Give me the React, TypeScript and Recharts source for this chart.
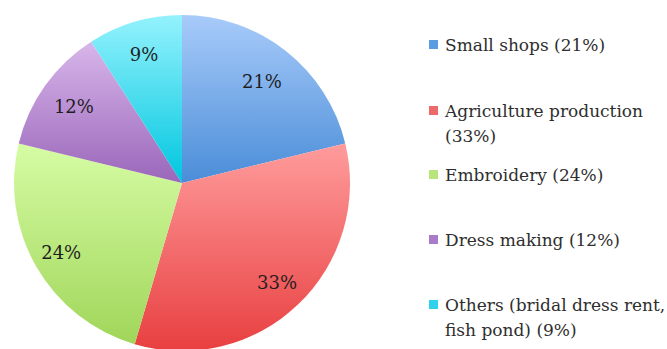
import React from 'react';
import { PieChart, Pie, Cell, Legend } from 'recharts';

const categories = ['Small shops', 'Agriculture production', 'Embroidery', 'Dress making', 'Others (bridal dress rent, fish pond)'];
const values = [21, 33, 24, 12, 9];
const legendLines = [
  ['Small shops (21%)'],
  ['Agriculture production', '(33%)'],
  ['Embroidery (24%)'],
  ['Dress making (12%)'],
  ['Others (bridal dress rent,', 'fish pond) (9%)'],
];
const gradTop = ['#a8cbfa', '#ff9c9c', '#d6fca4', '#d8b6ea', '#94f2fd'];
const gradBottom = ['#4a8dd8', '#e83f40', '#a0d65a', '#9a66ba', '#00c6df'];
const swatch = ['#5b9be0', '#ee6a6a', '#b8e67c', '#a87cc8', '#2ed2ea'];

const data = categories.map((name, i) => ({ name, value: values[i] }));

const labelRadiusFactor = [0.77, 0.82, 0.83, 0.79, 0.8];

const RAD = Math.PI / 180;
const renderLabel = (props: any) => {
  const { cx, cy, midAngle, outerRadius, value, index } = props;
  const r = outerRadius * (labelRadiusFactor[index] ?? 0.8);
  const x = cx + r * Math.cos(-midAngle * RAD);
  const y = cy + r * Math.sin(-midAngle * RAD);
  return (
    <text x={x} y={y} textAnchor="middle" dominantBaseline="central" fill="#1e1e1e"
      fontFamily="'DejaVu Serif', serif" fontSize={18}>
      {`${value}%`}
    </text>
  );
};

const legendTops = [45, 111, 175, 240, 305];

const renderLegend = () => (
  <div style={{ position: 'relative', width: 239, height: 349 }}>
    {legendLines.map((lines, i) => (
      <div key={i} style={{ position: 'absolute', left: 0, top: legendTops[i] - 12 }}>
        <div style={{ position: 'absolute', left: 1, top: 7, width: 9, height: 9, background: swatch[i] }} />
        <div style={{ position: 'absolute', left: 17, top: 0, whiteSpace: 'nowrap', fontFamily: "'DejaVu Serif', serif", fontSize: 17, lineHeight: '25px', color: '#2e2e2e' }}>
          {lines.map((l, j) => (<div key={j}>{l}</div>))}
        </div>
      </div>
    ))}
  </div>
);

export default function App() {
  return (
    <div style={{ position: 'absolute', left: 0, top: 0, width: 667, height: 349, background: '#fff' }}>
      <PieChart width={667} height={349} margin={{ top: 0, right: 0, bottom: 0, left: 0 }}>
        <defs>
          {gradTop.map((c, i) => (
            <linearGradient key={i} id={`g${i}`} x1="0" y1="0" x2="0" y2="1">
              <stop offset="0%" stopColor={c} />
              <stop offset="100%" stopColor={gradBottom[i]} />
            </linearGradient>
          ))}
        </defs>
        <Pie data={data} dataKey="value" nameKey="name" cx={182} cy={183} outerRadius={168}
          startAngle={90} endAngle={-270} stroke="none" label={renderLabel} labelLine={false}
          isAnimationActive={false}>
          {data.map((d, i) => (<Cell key={d.name} fill={`url(#g${i})`} />))}
        </Pie>
        <Legend content={renderLegend} wrapperStyle={{ position: 'absolute', left: 428, top: 0, width: 239, height: 349 }} />
      </PieChart>
    </div>
  );
}
